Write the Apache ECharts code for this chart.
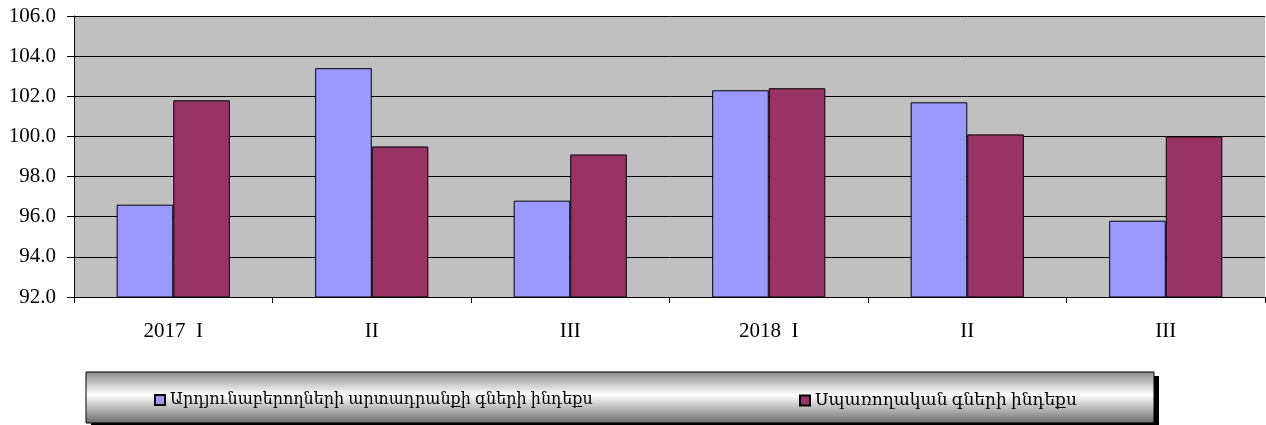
<!DOCTYPE html>
<html>
<head>
<meta charset="utf-8">
<script src="https://cdn.jsdelivr.net/npm/echarts@6/dist/echarts.min.js"></script>
<style>
  html, body { margin: 0; padding: 0; background: #fff; }
  #chart { width: 1266px; height: 425px; }
</style>
</head>
<body>
<div id="chart"></div>
<script>
"use strict";

// Quarters
const quarters = ["2017  I", "II", "III", "2018  I", "II", "III"];

// Series names
const nameProducer = "Արդյունաբերողների արտադրանքի գների ինդեքս";
const nameConsumer = "Սպառողական գների ինդեքս";

// Values
const producerIdx = [96.6, 103.4, 96.8, 102.3, 101.7, 95.8];
const consumerIdx = [101.8, 99.5, 99.1, 102.4, 100.1, 100.0];

// Y axis range
const yMin = 92, yMax = 106, yStep = 2;

const FONT = '"Liberation Serif", "DejaVu Serif", serif';
const C = { blue: "#9999ff", red: "#993366", plot: "#c0c0c0", line: "#000" };

const chart = echarts.init(document.getElementById("chart"));

const barStyle = color => ({ color: color, borderColor: "#000", borderWidth: 1 });

// Legend box: a black shadow rect under a grey gradient rect
const box = { x: 86, y: 372, width: 1068, height: 51 };

chart.setOption({
    animation: false,
    textStyle: { fontFamily: FONT },
    grid: {
        left: 74, right: 1, top: 16, bottom: 128,
        show: true, backgroundColor: C.plot, borderWidth: 0
    },
    graphic: [
        {
            type: "rect", z: -2,
            shape: { x: box.x + 5, y: box.y + 4, width: box.width, height: box.height },
            style: { fill: "#000" }
        },
        {
            type: "rect", z: -1,
            shape: box,
            style: {
                fill: {
                    type: "linear", x: 0, y: 0, x2: 0, y2: 1,
                    colorStops: [
                        { offset: 0, color: "#8a8a8a" },
                        { offset: 0.45, color: "#ffffff" },
                        { offset: 1, color: "#6a6a6a" }
                    ]
                },
                stroke: "#000", lineWidth: 1
            }
        }
    ],
    legend: [
        {
            data: [nameProducer], left: 149, top: 387,
            icon: "rect", itemWidth: 10, itemHeight: 10, itemGap: 5,
            textStyle: { fontFamily: FONT, fontSize: 16, color: "#000" }
        },
        {
            data: [nameConsumer], left: 794, top: 387,
            icon: "rect", itemWidth: 10, itemHeight: 10, itemGap: 5,
            textStyle: { fontFamily: FONT, fontSize: 17, color: "#000" }
        }
    ],
    xAxis: {
        type: "category", data: quarters,
        axisLine: { lineStyle: { color: C.line, width: 1 } },
        axisTick: { show: true, length: 6, lineStyle: { color: C.line } },
        axisLabel: { color: "#000", fontSize: 21, margin: 24 }
    },
    yAxis: {
        type: "value", min: yMin, max: yMax, interval: yStep,
        axisLine: { show: true, lineStyle: { color: C.line, width: 1 } },
        axisTick: { show: true, length: 7, lineStyle: { color: C.line } },
        axisLabel: { color: "#000", fontSize: 21, margin: 18, formatter: v => v.toFixed(1) },
        splitLine: { show: true, lineStyle: { color: C.line, width: 1 } }
    },
    series: [
        {
            name: nameProducer, type: "bar", data: producerIdx,
            barGap: "0%", barCategoryGap: "43%",
            itemStyle: barStyle(C.blue)
        },
        {
            name: nameConsumer, type: "bar", data: consumerIdx,
            itemStyle: barStyle(C.red)
        }
    ]
});
</script>
</body>
</html>
